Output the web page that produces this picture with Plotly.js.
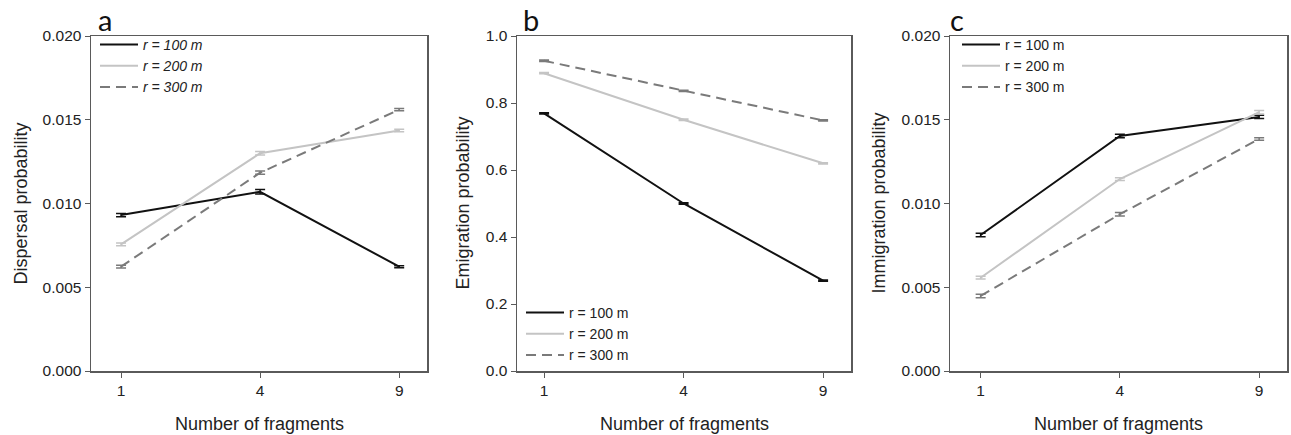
<!DOCTYPE html>
<html>
<head>
<meta charset="utf-8">
<script src="https://cdn.plot.ly/plotly-3.0.1.min.js"></script>
<style>html,body{margin:0;padding:0;background:#fff;}#chart{width:1291px;height:435px;}</style>
</head>
<body>
<div id="chart"></div>
<script>
// ---- data ----
var fragments = ['1', '4', '9'];
var seriesNames = ['r = 100 m', 'r = 200 m', 'r = 300 m'];

var dispersal_r100 = [0.00931, 0.01070, 0.00623];
var dispersal_r200 = [0.00756, 0.01300, 0.01436];
var dispersal_r300 = [0.00623, 0.01184, 0.01560];
var dispersal_err_r100 = [0.00010, 0.00013, 0.00006];
var dispersal_err_r200 = [0.00008, 0.00010, 0.00007];
var dispersal_err_r300 = [0.00008, 0.00010, 0.00007];

var emigration_r100 = [0.769, 0.500, 0.270];
var emigration_r200 = [0.889, 0.750, 0.620];
var emigration_r300 = [0.926, 0.836, 0.748];
var emigration_err_r100 = [0.002, 0.002, 0.002];
var emigration_err_r200 = [0.002, 0.002, 0.002];
var emigration_err_r300 = [0.002, 0.002, 0.002];

var immigration_r100 = [0.00812, 0.01403, 0.01517];
var immigration_r200 = [0.00557, 0.01146, 0.01545];
var immigration_r300 = [0.00448, 0.00936, 0.01385];
var immigration_err_r100 = [0.00010, 0.00010, 0.00010];
var immigration_err_r200 = [0.00008, 0.00008, 0.00010];
var immigration_err_r300 = [0.00010, 0.00010, 0.00008];

var yTitles = ['Dispersal probability', 'Emigration probability', 'Immigration probability'];
var xTitle = 'Number of fragments';
var panelLetters = ['a', 'b', 'c'];

// ---- styling ----
var colors = ['#111111', '#c4c4c4', '#7a7a7a'];
var dashes = ['solid', 'solid', '10px,6px'];
var FONT = 'Liberation Sans, Arial, sans-serif';

function mk(y, err, i, xa, ya, leg) {
  return {
    type: 'scatter', mode: 'lines',
    x: fragments, y: y,
    xaxis: xa, yaxis: ya,
    name: seriesNames[i],
    legend: leg, showlegend: true,
    line: {color: colors[i], width: 2, dash: dashes[i]},
    error_y: {type: 'data', array: err, visible: true, color: colors[i], thickness: 1.5, width: 5}
  };
}

var data = [
  mk(dispersal_r100, dispersal_err_r100, 0, 'x', 'y', 'legend'),
  mk(dispersal_r200, dispersal_err_r200, 1, 'x', 'y', 'legend'),
  mk(dispersal_r300, dispersal_err_r300, 2, 'x', 'y', 'legend'),
  mk(emigration_r100, emigration_err_r100, 0, 'x2', 'y2', 'legend2'),
  mk(emigration_r200, emigration_err_r200, 1, 'x2', 'y2', 'legend2'),
  mk(emigration_r300, emigration_err_r300, 2, 'x2', 'y2', 'legend2'),
  mk(immigration_r100, immigration_err_r100, 0, 'x3', 'y3', 'legend3'),
  mk(immigration_r200, immigration_err_r200, 1, 'x3', 'y3', 'legend3'),
  mk(immigration_r300, immigration_err_r300, 2, 'x3', 'y3', 'legend3')
];

var W = 1291, H = 435;
var boxTop = 36, boxBottom = 371;
var panels = [[91, 427], [517, 851], [950, 1287]];
var xr = [[-0.216, 2.2], [-0.194, 2.2], [-0.22, 2.2]];

function px(v) { return v / W; }
function py(v) { return 1 - v / H; }

function xaxis(i, anchor) {
  return {
    type: 'category', domain: [px(panels[i][0]), px(panels[i][1])], anchor: anchor,
    range: xr[i], showgrid: false, zeroline: false,
    showline: true, mirror: true, linecolor: '#5a5a5a', linewidth: 1.5,
    ticks: 'outside', ticklen: 5, tickcolor: '#5a5a5a', tickwidth: 1,
    tickfont: {family: FONT, size: 15.5, color: '#222'}
  };
}
function yaxis(i, anchor, range, dtick, fmt) {
  return {
    domain: [py(boxBottom), py(boxTop)], anchor: anchor,
    range: range, dtick: dtick, tick0: 0, tickformat: fmt,
    showgrid: false, zeroline: false,
    showline: true, mirror: true, linecolor: '#5a5a5a', linewidth: 1.5,
    ticks: 'outside', ticklen: 5, tickcolor: '#5a5a5a', tickwidth: 1,
    tickfont: {family: FONT, size: 15.5, color: '#222'}
  };
}

var annotations = [];
var yTitleX = [20, 462, 878];
var letterX = [96, 521, 948];
for (var i = 0; i < 3; i++) {
  annotations.push({
    xref: 'paper', yref: 'paper', x: px(yTitleX[i]), y: py((boxTop + boxBottom) / 2),
    text: yTitles[i], textangle: -90, showarrow: false, xanchor: 'center', yanchor: 'middle',
    font: {family: FONT, size: 18, color: '#222'}
  });
  annotations.push({
    xref: 'paper', yref: 'paper', x: px((panels[i][0] + panels[i][1]) / 2), y: py(424),
    text: xTitle, showarrow: false, xanchor: 'center', yanchor: 'middle',
    font: {family: FONT, size: 18, color: '#222'}
  });
  annotations.push({
    xref: 'paper', yref: 'paper', x: px(letterX[i]), y: py(19),
    text: panelLetters[i], showarrow: false, xanchor: 'left', yanchor: 'middle',
    font: {family: 'Lato, Open Sans, sans-serif', size: 29, color: '#111'}
  });
}

function legend(x, y, yanchor, italic) {
  return {
    x: px(x), y: py(y), xanchor: 'left', yanchor: yanchor,
    bgcolor: 'rgba(0,0,0,0)', borderwidth: 0,
    font: {family: FONT, size: 14, color: '#222', style: italic ? 'italic' : 'normal'},
    tracegroupgap: 0, itemwidth: 38
  };
}

var layout = {
  width: W, height: H,
  margin: {l: 0, r: 0, t: 0, b: 0},
  paper_bgcolor: '#fff', plot_bgcolor: '#fff',
  showlegend: true,
  xaxis: xaxis(0, 'y'), yaxis: yaxis(0, 'x', [0, 0.02], 0.005, '.3f'),
  xaxis2: xaxis(1, 'y2'), yaxis2: yaxis(1, 'x2', [0, 1.0], 0.2, '.1f'),
  xaxis3: xaxis(2, 'y3'), yaxis3: yaxis(2, 'x3', [0, 0.02], 0.005, '.3f'),
  legend: legend(95, 29, 'top', true),
  legend2: legend(521, 371, 'bottom', false),
  legend3: legend(957, 29, 'top', false),
  annotations: annotations
};

Plotly.newPlot('chart', data, layout, {displayModeBar: false, staticPlot: true});
</script>
</body>
</html>
